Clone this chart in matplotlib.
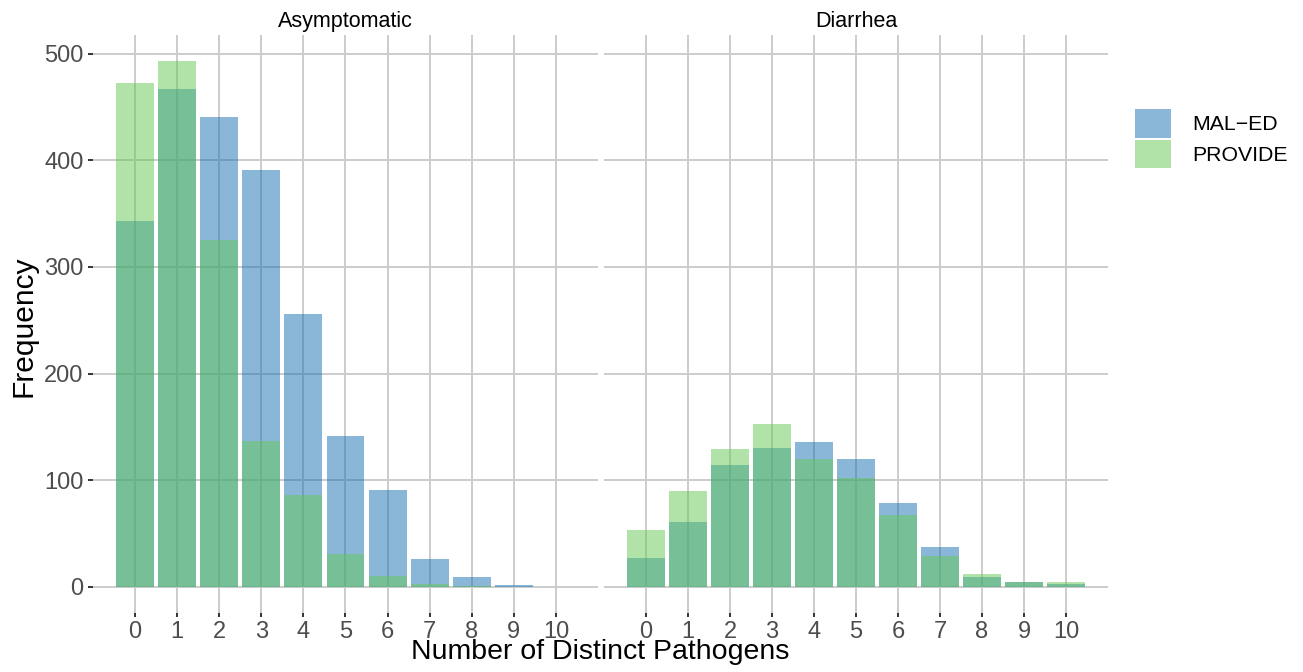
import matplotlib
matplotlib.use("Agg")
import matplotlib.pyplot as plt
from matplotlib.patches import Patch
import numpy as np

plt.rcParams['font.family'] = ['Liberation Sans', 'DejaVu Sans']

pathogens = list(range(11))
tick_labels = [str(v) for v in pathogens]
facets = ["Asymptomatic", "Diarrhea"]
series_names = ["MAL\u2212ED", "PROVIDE"]

asym_maled = [343, 467, 441, 391, 256, 141, 91, 26, 9, 2, 0]
asym_provide = [473, 493, 325, 137, 86, 31, 10, 3, 1, 0, 0]
diar_maled = [27, 61, 114, 130, 136, 120, 79, 37, 9, 4, 3]
diar_provide = [53, 90, 129, 153, 120, 102, 67, 29, 12, 4, 4]

data = {
    "Asymptomatic": (asym_maled, asym_provide),
    "Diarrhea": (diar_maled, diar_provide),
}

c_maled = (23/255, 111/255, 179/255)
c_provide = (101/255, 201/255, 85/255)
alpha = 0.5

W, H = 1303, 672
fig = plt.figure(figsize=(W/100, H/100), dpi=100)

def fx(px):
    return px / W

def fy(py):
    return 1 - py / H

top_px, bot_px = 35, 613
panels = [(93, 598), (604, 1108)]
grid_c = "#cccccc"
axes = []
for i, (facet, (l, r)) in enumerate(zip(facets, panels)):
    ax = fig.add_axes([fx(l), fy(bot_px), fx(r - l), (bot_px - top_px) / H])
    maled, provide = data[facet]
    ax.bar(pathogens, maled, width=0.9, color=c_maled, alpha=alpha, linewidth=0, zorder=2)
    ax.bar(pathogens, provide, width=0.9, color=c_provide, alpha=alpha, linewidth=0, zorder=3)
    ax.set_xlim(-1.0, 11.0)
    ax.set_ylim(-24.65, 517.65)
    ax.set_xticks(pathogens)
    ax.set_xticklabels(tick_labels)
    ax.set_yticks([0, 100, 200, 300, 400, 500])
    ax.grid(True, color=grid_c, linewidth=1.4, zorder=0)
    ax.set_axisbelow(True)
    for s in ax.spines.values():
        s.set_visible(False)
    ax.tick_params(axis='x', length=3, width=1.4, color="#333333", pad=3,
                   labelsize=17, labelcolor="#4d4d4d")
    if i == 0:
        ax.tick_params(axis='y', length=3.5, width=1.4, color="#333333", pad=3.2,
                       labelsize=17, labelcolor="#4d4d4d")
    else:
        ax.tick_params(axis='y', length=0, labelleft=False)
    ax.set_title(facet, fontsize=15.5, color="black", pad=5.8)
    axes.append(ax)

fig.text(fx(23), fy(326), "Frequency", rotation=90, ha="center", va="center",
         fontsize=21.5)
fig.text((93 + 1108) / 2 / W, fy(659), "Number of Distinct Pathogens",
         ha="center", va="baseline", fontsize=20.5)

handles = [Patch(facecolor=c_maled, alpha=alpha, linewidth=0),
           Patch(facecolor=c_provide, alpha=alpha, linewidth=0)]
fig.legend(handles, series_names, loc="upper left",
           bbox_to_anchor=(fx(1135), fy(109)), frameon=False,
           fontsize=15.3, handlelength=1.69, handleheight=1.69,
           labelspacing=0.1, handletextpad=1.0, borderaxespad=0, borderpad=0)

fig.savefig("out.png", dpi=100)
